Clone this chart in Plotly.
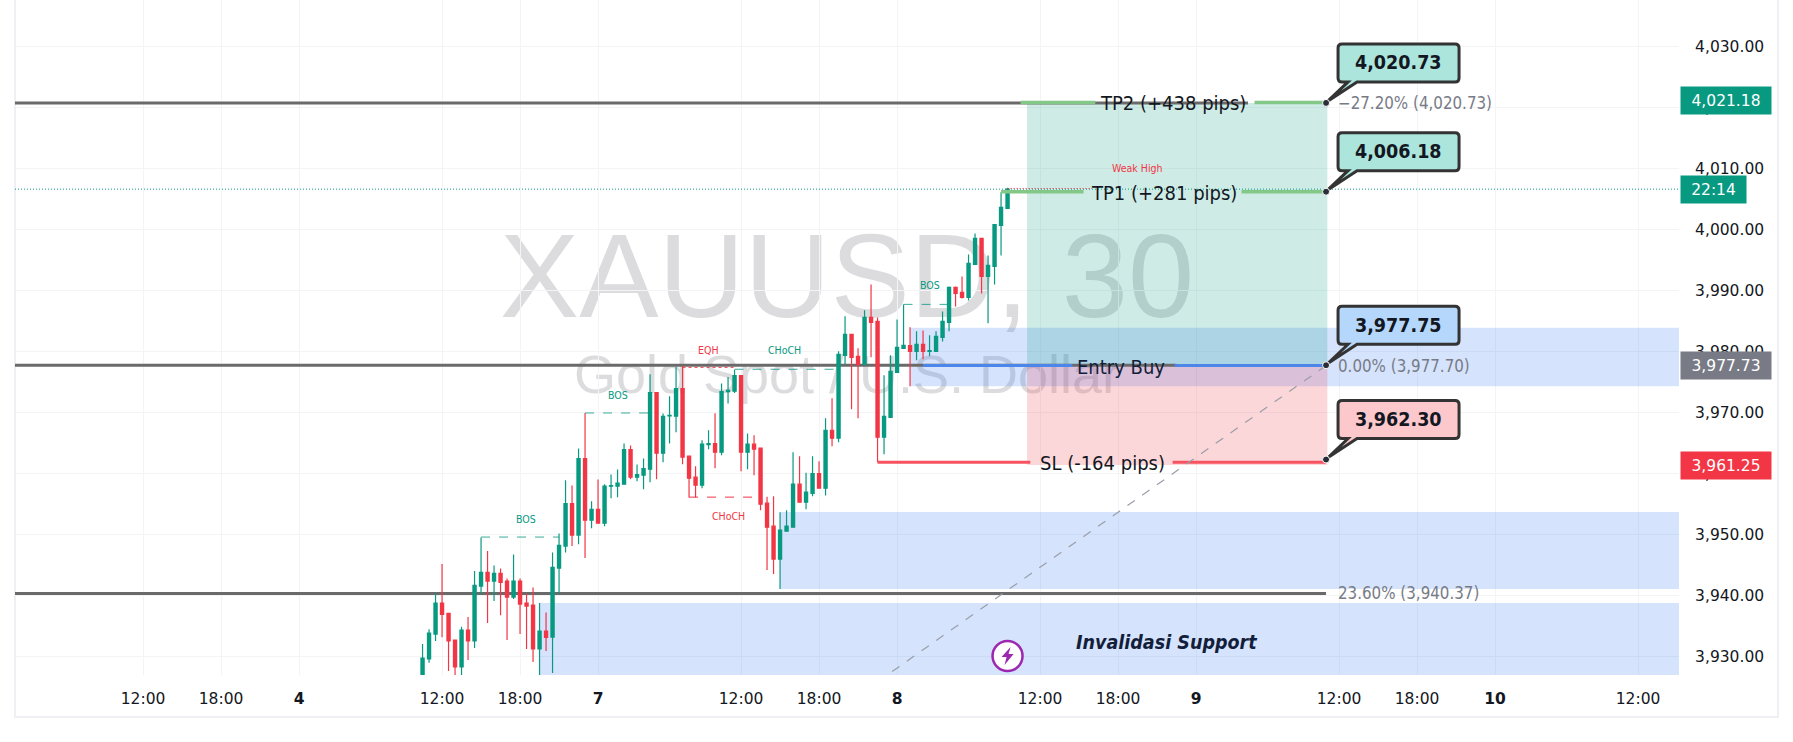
import plotly.graph_objects as go

# candle data
opens = [3926.0, 3929.62, 3933.71, 3938.79, 3937.10, 3932.73, 3928.31, 3934.37, 3932.57, 3941.57,
         3943.81, 3942.39, 3943.64, 3942.39, 3939.77, 3942.39, 3938.79, 3938.46, 3931.26, 3934.20,
         3933.22, 3944.52, 3948.12, 3955.10, 3949.92, 3962.47, 3952.37, 3954.12, 3951.88, 3957.94,
         3957.94, 3958.26, 3963.94, 3959.41, 3959.74, 3960.72, 3973.27, 3963.34, 3969.45, 3969.39,
         3973.92, 3962.85, 3959.41, 3958.10, 3964.76, 3964.92, 3963.50, 3973.43, 3973.49, 3976.05,
         3963.50, 3964.81, 3964.16, 3955.15, 3951.39, 3945.99, 3950.57, 3951.22, 3958.26, 3955.32,
         3956.74, 3960.01, 3957.61, 3967.10, 3965.79, 3979.37, 3982.81, 3979.21, 3977.90, 3985.59,
         3984.94, 3965.95, 3969.22, 3976.59, 3980.52, 3980.95, 3980.03, 3981.17, 3980.03, 3980.03,
         3982.32, 3984.77, 3990.50, 3989.68, 3988.87, 3994.27, 3998.52, 3992.30, 3993.94, 4000.65,
         4003.43]
highs = [3932.08, 3934.48, 3940.37, 3945.17, 3937.10, 3932.73, 3934.91, 3936.50, 3944.02, 3949.53,
         3947.30, 3944.95, 3944.46, 3942.82, 3946.75, 3942.82, 3940.37, 3941.35, 3938.79, 3937.26,
         3947.08, 3950.19, 3958.92, 3958.05, 3964.10, 3969.94, 3955.48, 3959.03, 3958.26, 3959.85,
         3960.67, 3964.92, 3964.59, 3961.48, 3962.47, 3976.27, 3973.27, 3969.83, 3972.67, 3977.47,
         3977.63, 3962.85, 3961.21, 3965.46, 3967.10, 3969.88, 3974.74, 3975.83, 3977.03, 3976.05,
         3966.56, 3966.28, 3964.16, 3956.19, 3956.30, 3953.68, 3954.01, 3963.50, 3962.85, 3960.12,
         3962.85, 3962.03, 3969.07, 3972.34, 3980.03, 3985.76, 3982.92, 3980.52, 3986.74, 3990.99,
         3985.59, 3976.10, 3979.37, 3985.26, 3987.72, 3983.96, 3983.30, 3983.46, 3982.65, 3983.30,
         3986.57, 3990.67, 3990.67, 3992.30, 3995.90, 3999.34, 3998.52, 3995.74, 4000.81, 4006.11,
         4006.82]
lows = [3925.5, 3929.02, 3932.57, 3933.17, 3927.66, 3926.8, 3926.8, 3929.46, 3931.42, 3940.37,
        3935.51, 3939.11, 3936.77, 3932.73, 3939.44, 3933.71, 3931.26, 3929.13, 3926.9, 3930.93,
        3927.33, 3940.37, 3947.08, 3948.12, 3948.44, 3946.15, 3951.06, 3951.83, 3951.39, 3955.97,
        3956.14, 3958.26, 3959.08, 3958.76, 3957.45, 3958.59, 3959.08, 3961.86, 3964.92, 3966.77,
        3961.54, 3956.08, 3956.08, 3957.61, 3963.99, 3960.88, 3963.01, 3971.47, 3973.21, 3960.39,
        3960.72, 3959.74, 3954.01, 3944.19, 3943.53, 3941.08, 3950.46, 3951.22, 3955.32, 3954.17,
        3956.30, 3957.61, 3956.41, 3964.48, 3965.14, 3977.90, 3970.53, 3969.06, 3977.74, 3979.05,
        3961.86, 3963.17, 3969.22, 3976.59, 3980.52, 3974.30, 3978.55, 3978.72, 3979.21, 3980.03,
        3981.66, 3983.30, 3987.39, 3988.70, 3988.37, 3994.27, 3989.52, 3984.61, 3990.99, 3995.74,
        4003.43]
closes = [3929.78, 3933.88, 3938.79, 3936.93, 3932.57, 3928.31, 3934.37, 3932.57, 3941.68, 3943.81,
          3942.39, 3943.64, 3942.17, 3939.77, 3942.39, 3938.62, 3938.30, 3931.26, 3934.20, 3933.17,
          3944.62, 3948.23, 3955.10, 3949.92, 3962.47, 3952.37, 3954.12, 3951.88, 3957.94, 3958.05,
          3958.43, 3963.94, 3959.41, 3959.85, 3960.83, 3973.27, 3963.34, 3969.39, 3969.56, 3973.92,
          3962.68, 3959.25, 3958.10, 3964.81, 3964.92, 3963.50, 3973.43, 3973.65, 3976.05, 3963.50,
          3964.81, 3963.99, 3954.99, 3951.22, 3945.99, 3950.73, 3951.39, 3958.26, 3955.32, 3956.95,
          3960.01, 3957.61, 3967.10, 3965.79, 3979.54, 3982.81, 3979.05, 3977.90, 3985.59, 3984.77,
          3965.95, 3969.39, 3976.75, 3980.68, 3981.01, 3980.03, 3981.17, 3980.03, 3980.14, 3982.48,
          3984.94, 3990.50, 3989.52, 3988.87, 3994.43, 3998.52, 3992.30, 3994.10, 4000.81, 4003.60,
          4006.60]
bars = list(range(len(opens)))

# axes
time_ticks = [-43, -31, -19, 3, 15, 27, 49, 61, 73, 95, 107, 119, 141, 153, 165, 187]
time_labels = ['12:00', '18:00', '<b>4</b>', '12:00', '18:00', '<b>7</b>', '12:00', '18:00', '<b>8</b>',
               '12:00', '18:00', '<b>9</b>', '12:00', '18:00', '<b>10</b>', '12:00']
price_ticks = [3930, 3940, 3950, 3960, 3970, 3980, 3990, 4000, 4010, 4020, 4030]

# trade levels
tp2 = 4020.73
tp1 = 4006.18
entry = 3977.75
stop = 3962.30
fib_236 = 3940.37
last_price = 4006.60
plan_start = 93
plan_end = 139.2

GREEN = '#089981'
RED = '#F23645'
INK = '#131e3a'
GRID = '#f3f4f6'
TP_GREEN = '#83c886'
ZONE_BLUE = 'rgba(45,115,245,0.2)'
MAIN_FONT = 'DejaVu Sans'
COND_FONT = 'DejaVu Sans Condensed'

fig = go.Figure()

fig.add_trace(go.Candlestick(
    x=bars, open=opens, high=highs, low=lows, close=closes,
    increasing=dict(line=dict(color=GREEN, width=1.2), fillcolor=GREEN),
    decreasing=dict(line=dict(color=RED, width=1.2), fillcolor=RED),
    whiskerwidth=0,
    hoverinfo='skip',
))


def hline(x0, x1, y, color, width=3, dash='solid', layer='above'):
    fig.add_shape(type='line', x0=x0, x1=x1, y0=y, y1=y, layer=layer,
                  line=dict(color=color, width=width, dash=dash))


def zone(x0, x1, y0, y1, color, layer='between'):
    fig.add_shape(type='rect', x0=x0, x1=x1, y0=y0, y1=y1, layer=layer,
                  fillcolor=color, line=dict(width=0))


def label(x, y, text, size=16, color=INK, family=COND_FONT, anchor='center', xshift=0, yshift=0, **kw):
    fig.add_annotation(x=x, y=y, text=text, showarrow=False, xanchor=anchor, yanchor='middle',
                       xshift=xshift, yshift=yshift,
                       font=dict(size=size, color=color, family=family), **kw)


def watermark(y0, y1, text, size):
    fig.add_shape(type='rect', xref='paper', yref='paper', x0=0.08, x1=0.92, y0=y0, y1=y1, layer='below',
                  line=dict(width=0), fillcolor='rgba(0,0,0,0)',
                  label=dict(text=text, textposition='middle center',
                             font=dict(size=size, color='#dcdcde', family='Liberation Sans')))


def callout(price, fill, text):
    # speech bubble drawn in pixels around its anchor price
    path = ('M 16,59 H 129 Q 133,59 133,55 V 25 Q 133,21 129,21 H 31 L 2,2 L 22,21 H 16 '
            'Q 12,21 12,25 V 55 Q 12,59 16,59 Z')
    fig.add_shape(type='path', path=path, xsizemode='pixel', ysizemode='pixel', xanchor=139, yanchor=price,
                  fillcolor=fill, line=dict(color='#333333', width=3), layer='above')
    fig.add_shape(type='circle', x0=-3.5, x1=3.5, y0=-3.5, y1=3.5, xsizemode='pixel', ysizemode='pixel',
                  xanchor=139, yanchor=price, fillcolor='#2a2e39', line=dict(color='white', width=1), layer='above')
    label(139, price, '<b>%s</b>' % text, size=19.5, color='#131722', xshift=72.5, yshift=40)


def price_tag(price, text, color, width=90):
    fig.add_annotation(xref='paper', yref='y', x=(1680 - 15) / 1664, y=price, text=text, showarrow=False,
                       xanchor='left', yanchor='middle', width=width, height=27, align='center',
                       bgcolor=color, borderpad=0,
                       font=dict(size=15.5, color='white', family=MAIN_FONT))


# watermark
watermark(0.533, 0.683, 'XAUUSD, 30', 119)
watermark(0.403, 0.503, 'Gold Spot / U.S. Dollar', 54)

# order blocks
zone(75, 193.3, 3974.3, 3983.9, ZONE_BLUE)
zone(55, 193.3, 3941.08, 3953.7, ZONE_BLUE)
zone(18, 193.3, 3927.0, 3938.8, ZONE_BLUE)

# long position boxes
zone(plan_start, plan_end, entry, tp2, 'rgba(8,153,129,0.2)')
zone(plan_start, plan_end, 3961.4, entry, 'rgba(242,54,69,0.2)')

# level lines
GRAY = '#6a6a6a'
hline(-62.7, 127, tp2, GRAY, layer='between')
hline(-62.7, 116, entry, GRAY, layer='between')
hline(-62.7, 139, fib_236, GRAY, layer='between')

hline(92, 103.5, 4020.8, TP_GREEN, width=3.5)
hline(128, 139, 4020.8, TP_GREEN, width=3.5)
hline(89, 101.7, tp1, TP_GREEN, width=3.5)
hline(126, 139, tp1, TP_GREEN, width=3.5)
hline(77, 100, 3977.7, '#4c86e8')
hline(115.7, 139, 3977.7, '#4c86e8')
hline(70, 93.5, 3961.85, '#f7525f')
hline(115.4, 139, 3961.85, '#f7525f')

hline(-62.7, 193.3, last_price, GREEN, width=1, dash='1px,2px')
hline(90, 103, 4006.71, RED, width=1, dash='1px,2px')

# fib line
fig.add_shape(type='line', x0=139, y0=3977.7, x1=71.5, y1=3927.0, layer='above',
              line=dict(color='#9a9ea8', width=1.2, dash='dash'))

# market structure marks
hline(9, 21, 3949.6, 'rgba(8,153,129,0.8)', width=1, dash='dash')
hline(25, 35, 3969.93, 'rgba(8,153,129,0.8)', width=1, dash='dash')
hline(40, 48, 3977.41, RED, width=1, dash='dot')
hline(48, 64, 3977.09, 'rgba(8,153,129,0.8)', width=1, dash='dash')
hline(41, 52, 3956.14, RED, width=1, dash='dash')
hline(74, 81, 3987.72, 'rgba(8,153,129,0.8)', width=1, dash='dash')

label(15.9, 3952.6, 'BOS', size=10.5, color=GREEN)
label(30, 3972.9, 'BOS', size=10.5, color=GREEN)
label(44, 3980.2, 'EQH', size=10.5, color=RED)
label(55.7, 3980.2, 'CHoCH', size=10.5, color=GREEN)
label(47, 3953.1, 'CHoCH', size=10.5, color=RED)
label(78, 3990.9, 'BOS', size=10.5, color=GREEN)
label(110, 4010.0, 'Weak High', size=10.5, color=RED)

# trade text
label(115.4, tp2, 'TP2 (+438 pips)', size=20, color='#131722')
label(114.1, 4005.9, 'TP1 (+281 pips)', size=20, color='#131722')
label(107.5, 3977.4, 'Entry Buy', size=20)
label(104.6, 3961.7, 'SL (-164 pips)', size=20, color='#131722')
label(114.5, 3932.4, '<b><i>Invalidasi Support</i></b>', size=19.5)

label(139, tp2, '−27.20% (4,020.73)', size=16.8, color='#787b86', anchor='left', xshift=10)
label(139, 3977.7, '0.00% (3,977.70)', size=16.8, color='#787b86', anchor='left', xshift=10)
label(139, fib_236, '23.60% (3,940.37)', size=16.8, color='#787b86', anchor='left', xshift=10)

# bubbles
callout(tp2, '#ace5dc', '4,020.73')
callout(tp1, '#ace5dc', '4,006.18')
callout(entry, '#b5d7fb', '3,977.75')
callout(stop, '#fcc8cc', '3,962.30')

# news icon
fig.add_shape(type='circle', x0=-15, x1=15, y0=-15, y1=15, xsizemode='pixel', ysizemode='pixel',
              xanchor=90, yanchor=3930.1, fillcolor='white', line=dict(color='#9c27b0', width=2.5), layer='above')
fig.add_shape(type='path', path='M 3,9 L -6,-1 L -1,-1 L -3,-9 L 6,2 L 1,2 Z',
              xsizemode='pixel', ysizemode='pixel', xanchor=90, yanchor=3930.1,
              fillcolor='#9c27b0', line=dict(width=0), layer='above')

# right side price tags
price_tag(4021.18, '4,021.18', GREEN)
price_tag(last_price, '22:14', GREEN, width=65)
price_tag(3977.73, '3,977.73', '#787b86')
price_tag(3961.25, '3,961.25', RED)

# outer frame
fig.add_shape(type='path', xref='paper', yref='paper', layer='below',
              path='M 0,1 L 0,-0.0622 L 1.0595,-0.0622 L 1.0595,1',
              line=dict(color='#eef0f3', width=2))

fig.update_layout(
    width=1793, height=742,
    margin=dict(l=15, r=114, t=0, b=67),
    paper_bgcolor='white', plot_bgcolor='white',
    showlegend=False,
    font=dict(family=MAIN_FONT, color='#131722', size=15.5),
    xaxis=dict(range=[-62.7, 193.3], tickmode='array', tickvals=time_ticks, ticktext=time_labels,
               showgrid=True, gridcolor=GRID, gridwidth=1, zeroline=False, showline=False,
               ticks='outside', ticklen=9, tickcolor='rgba(0,0,0,0)', rangeslider=dict(visible=False),
               tickfont=dict(family=MAIN_FONT, size=15.5)),
    yaxis=dict(range=[3927.0, 4037.59], side='right', tickmode='array', tickvals=price_ticks,
               tickformat=',.2f', showgrid=True, gridcolor=GRID, gridwidth=1, zeroline=False,
               showline=False, ticks='outside', ticklen=12, tickcolor='rgba(0,0,0,0)',
               tickfont=dict(family=MAIN_FONT, size=15.5)),
)

# the page's default body margin would push the chart 8px off
fig.write_html("out.html", config={'displayModeBar': False}, post_script="document.body.style.margin = '0';")
